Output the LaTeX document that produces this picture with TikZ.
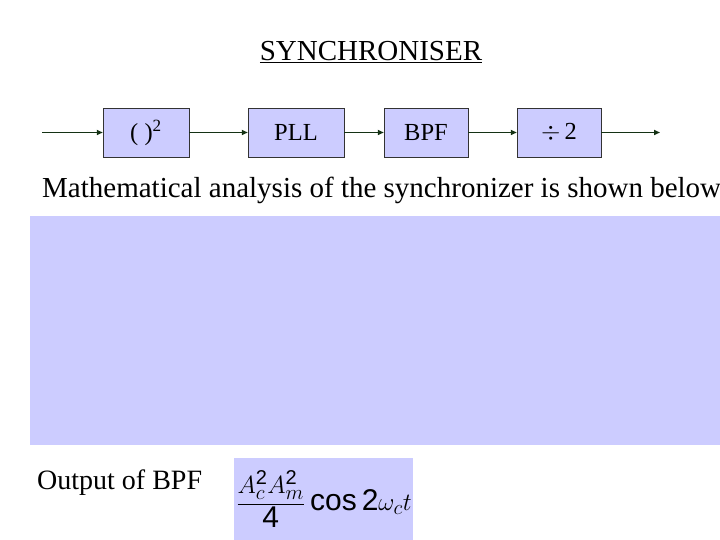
\documentclass[tikz,border=0pt]{standalone}
\usepackage{fontspec}
\setmainfont{Liberation Serif}
\newfontfamily\sansf{Liberation Sans}
\usetikzlibrary{arrows.meta}
\definecolor{boxblue}{RGB}{204,204,255}
\definecolor{arrgreen}{RGB}{20,50,20}
\begin{document}
\begin{tikzpicture}[x=1pt,y=-1pt,
  blk/.style={draw=black!80,fill=boxblue,minimum width=86pt,minimum height=49pt,inner sep=0pt,font=\fontsize{24.5}{28}\selectfont},
  conn/.style={draw=arrgreen,line width=1.5pt,-{Triangle[length=6pt,width=5pt]}}]
\useasboundingbox (0,0) rectangle (720,540);
\fill[white] (0,0) rectangle (720,540);
\node (title) at (371,52) {\fontsize{29}{32}\selectfont\underline{SYNCHRONISER}};
\node[blk] (sq) at (146,132.5) {( )$^{\mathrm{2}}$};
\node[blk,minimum width=96pt] (pll) at (296,132.5) {PLL};
\node[blk,minimum width=84pt] (bpf) at (426,132.5) {BPF};
\node[blk,minimum width=84pt] (div) at (559,132.5) {$\div\,$2};
\coordinate (in) at (42,132.5);
\coordinate (out) at (660,132.5);
\draw[conn] (in) -- (sq);
\draw[conn] (sq) -- (pll);
\draw[conn] (pll) -- (bpf);
\draw[conn] (bpf) -- (div);
\draw[conn] (div) -- (out);
\node[anchor=west,inner sep=0pt] (math) at (42,190) {\fontsize{29}{32}\selectfont Mathematical analysis of the synchronizer is shown below:};
\fill[boxblue] (30,216) rectangle (720,445);
\node[anchor=west,inner sep=0pt] (obpf) at (37,483) {\fontsize{28}{32}\selectfont Output of BPF};
\fill[boxblue] (234,458) rectangle (413,540);
\node (f) at (324,499) {\fontsize{30}{34}\selectfont $\displaystyle\frac{A_c^{\hbox{\sansf\fontsize{20}{22}\selectfont 2}}A_m^{\hbox{\sansf\fontsize{20}{22}\selectfont 2}}}{\hbox{\sansf 4}}\hbox{\sansf\,cos\,2}\omega_c t$};
\end{tikzpicture}
\end{document}
